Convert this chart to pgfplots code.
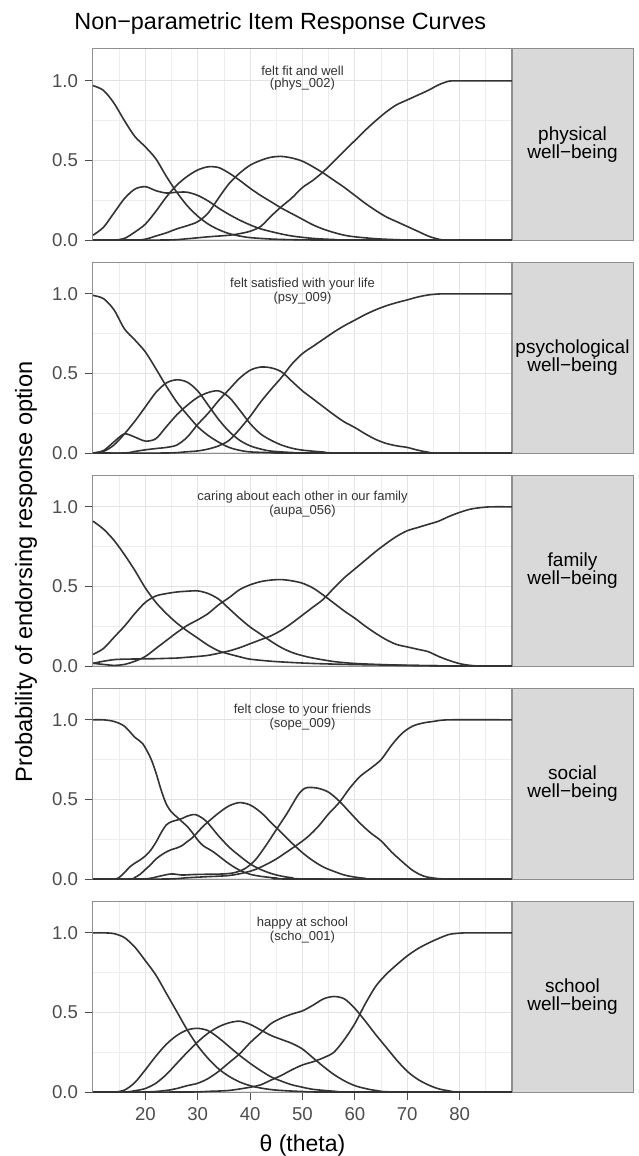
\documentclass[border=0pt]{standalone}
\usepackage{pgfplots}
\pgfplotsset{compat=1.18}
\usepackage{fontspec}
\setmainfont{Liberation Sans}

\definecolor{curvec}{HTML}{333333}
\definecolor{gridmaj}{HTML}{E3E3E3}
\definecolor{gridmin}{HTML}{EDEDED}
\definecolor{borderc}{HTML}{8F8F8F}
\definecolor{tickc}{HTML}{4D4D4D}
\definecolor{stripc}{HTML}{D9D9D9}

\tikzset{irc/.style={draw=curvec, line width=0.8pt, smooth, tension=0.5, mark=none}}

\pgfplotsset{
  panel/.style={
    scale only axis, width=209.5pt, height=95.5pt, anchor=north west,
    xmin=10, xmax=90, ymin=0, ymax=1.2,
    xtick={20,30,...,80}, minor xtick={15,25,...,85},
    ytick={0,0.5,1}, minor ytick={0.25,0.75},
    grid=both,
    major grid style={draw=gridmaj, line width=0.6pt},
    minor grid style={draw=gridmin, line width=0.4pt},
    axis line style={draw=borderc, line width=0.5pt},
    tick align=outside, tick pos=left,
    major tick length=4pt, minor tick length=0pt,
    tick style={draw=tickc, line width=0.5pt},
    /pgf/number format/assume math mode=true,
    yticklabel style={/pgf/number format/fixed, /pgf/number format/fixed zerofill,
      /pgf/number format/precision=1, font=\fontsize{9.3}{11}\selectfont, text=tickc},
    xticklabel style={font=\fontsize{9.3}{11}\selectfont, text=tickc},
  },
  toppanel/.style={panel, xmajorticks=false, xticklabels={}},
}

\newcommand{\itemlabel}[2]{\node[align=center, text=curvec,
  font=\fontsize{6.5}{6}\selectfont] at (axis cs:50,1.018) {#1\\(#2)};}
\newcommand{\strip}[2]{%
  \draw[draw=borderc, fill=stripc, line width=0.5pt] (256pt,#1) rectangle (316.5pt,#1-95.5pt);
  \node[align=center, font=\fontsize{9.5}{9.2}\selectfont] at (286.25pt,#1-47.75pt) {#2\\well−being};}

\begin{document}
\begin{tikzpicture}
\useasboundingbox (0,0) rectangle (319pt,-578pt);

\node[anchor=base west, inner sep=0pt, font=\fontsize{11.7}{13}\selectfont] at (37pt,-15pt) {Non−parametric Item Response Curves};
\node[rotate=90, font=\fontsize{11.8}{13}\selectfont] at (13pt,-286pt) {Probability of endorsing response option};
\node[font=\fontsize{11.5}{13}\selectfont] at (151.25pt,-573pt) {θ (theta)};

% physical well-being
\begin{axis}[toppanel, at={(46.5pt,-24.5pt)}]
\addplot[irc] coordinates {(10,0.97) (12,0.94) (14,0.86) (16,0.75) (18,0.65) (20,0.585) (22,0.51) (24,0.40) (26,0.30) (28,0.215) (30,0.15) (32,0.10) (34,0.065) (36,0.04) (38,0.025) (40,0.015) (44,0.006) (48,0.002) (55,0) (90,0)};
\addplot[irc] coordinates {(10,0.03) (12,0.08) (14,0.17) (16,0.26) (18,0.32) (20,0.335) (22,0.31) (24,0.295) (26,0.30) (28,0.30) (30,0.28) (32,0.245) (34,0.20) (36,0.16) (38,0.125) (40,0.095) (42,0.07) (45,0.045) (48,0.025) (52,0.01) (56,0.003) (60,0) (90,0)};
\addplot[irc] coordinates {(10,0) (14,0) (16,0.01) (18,0.05) (20,0.10) (22,0.18) (24,0.27) (26,0.345) (28,0.40) (30,0.44) (32,0.46) (34,0.455) (36,0.42) (38,0.375) (40,0.325) (42,0.28) (44,0.24) (46,0.20) (48,0.165) (50,0.13) (52,0.095) (54,0.068) (56,0.047) (58,0.03) (60,0.02) (64,0.008) (68,0.002) (72,0) (90,0)};
\addplot[irc] coordinates {(10,0) (18,0) (20,0.005) (22,0.025) (24,0.045) (26,0.07) (28,0.09) (30,0.115) (32,0.17) (34,0.265) (36,0.355) (38,0.42) (40,0.47) (42,0.50) (44,0.52) (46,0.525) (48,0.515) (50,0.495) (52,0.46) (54,0.42) (56,0.375) (58,0.33) (60,0.28) (62,0.23) (64,0.185) (66,0.145) (68,0.115) (70,0.085) (72,0.055) (74,0.025) (76,0.005) (78,0) (90,0)};
\addplot[irc] coordinates {(10,0) (24,0) (28,0.008) (32,0.02) (36,0.03) (38,0.04) (40,0.055) (42,0.085) (44,0.15) (46,0.21) (48,0.265) (50,0.33) (52,0.375) (54,0.43) (56,0.495) (58,0.56) (60,0.625) (62,0.69) (64,0.75) (66,0.805) (68,0.85) (70,0.88) (72,0.91) (74,0.94) (76,0.975) (78,0.998) (80,1) (90,1)};
\itemlabel{felt fit and well}{phys\_002}
\end{axis}
\strip{-24.5pt}{physical}

% psychological well-being
\begin{axis}[toppanel, at={(46.5pt,-131pt)}]
\addplot[irc] coordinates {(10,0.99) (12,0.97) (14,0.90) (16,0.78) (18,0.71) (20,0.635) (22,0.53) (24,0.42) (26,0.32) (28,0.24) (30,0.165) (32,0.11) (34,0.068) (36,0.035) (38,0.017) (40,0.007) (44,0.002) (48,0) (90,0)};
\addplot[irc] coordinates {(10,0) (12,0.01) (14,0.05) (16,0.12) (18,0.20) (20,0.29) (22,0.38) (24,0.44) (26,0.46) (28,0.445) (30,0.39) (32,0.30) (34,0.21) (36,0.135) (38,0.08) (40,0.045) (42,0.025) (44,0.012) (48,0.003) (52,0) (90,0)};
\addplot[irc] coordinates {(10,0) (12,0.015) (14,0.07) (16,0.12) (18,0.10) (20,0.075) (22,0.09) (24,0.165) (26,0.24) (28,0.30) (30,0.35) (32,0.38) (34,0.39) (36,0.35) (38,0.27) (40,0.185) (42,0.12) (44,0.08) (46,0.05) (48,0.03) (50,0.018) (54,0.006) (58,0) (90,0)};
\addplot[irc] coordinates {(10,0) (16,0) (18,0.01) (20,0.02) (22,0.028) (24,0.035) (26,0.05) (28,0.10) (30,0.18) (32,0.25) (34,0.33) (36,0.40) (38,0.47) (40,0.52) (42,0.54) (44,0.535) (46,0.51) (48,0.45) (50,0.39) (52,0.34) (54,0.29) (56,0.24) (58,0.195) (60,0.16) (62,0.12) (64,0.085) (66,0.06) (68,0.045) (70,0.035) (72,0.018) (74,0.005) (76,0) (90,0)};
\addplot[irc] coordinates {(10,0) (24,0) (28,0.008) (30,0.013) (32,0.025) (34,0.045) (36,0.08) (38,0.15) (40,0.23) (42,0.32) (44,0.40) (46,0.475) (48,0.56) (50,0.625) (52,0.67) (54,0.715) (56,0.76) (58,0.80) (60,0.835) (62,0.87) (64,0.90) (66,0.925) (68,0.945) (70,0.962) (72,0.98) (74,0.993) (76,0.999) (78,1) (90,1)};
\itemlabel{felt satisfied with your life}{psy\_009}
\end{axis}
\strip{-131pt}{psychological}

% family well-being
\begin{axis}[toppanel, at={(46.5pt,-237.5pt)}]
\addplot[irc] coordinates {(10,0.91) (12,0.86) (14,0.79) (16,0.70) (18,0.60) (20,0.49) (22,0.40) (24,0.33) (26,0.27) (28,0.22) (30,0.175) (32,0.13) (34,0.095) (36,0.075) (38,0.058) (40,0.043) (44,0.03) (48,0.022) (52,0.016) (56,0.012) (60,0.009) (66,0.006) (72,0.003) (80,0) (90,0)};
\addplot[irc] coordinates {(10,0.073) (12,0.11) (14,0.18) (16,0.25) (18,0.33) (20,0.40) (22,0.44) (24,0.455) (26,0.465) (28,0.47) (30,0.472) (32,0.455) (34,0.42) (36,0.36) (38,0.30) (40,0.245) (42,0.20) (44,0.155) (46,0.115) (48,0.085) (50,0.065) (52,0.05) (56,0.028) (60,0.016) (66,0.008) (72,0.003) (80,0) (90,0)};
\addplot[irc] coordinates {(10,0.017) (12,0.01) (14,0.004) (16,0.01) (18,0.03) (20,0.06) (22,0.11) (24,0.16) (26,0.21) (28,0.255) (30,0.29) (32,0.33) (34,0.385) (36,0.43) (38,0.48) (40,0.51) (42,0.53) (44,0.54) (46,0.543) (48,0.535) (50,0.52) (52,0.49) (54,0.445) (56,0.395) (58,0.345) (60,0.30) (62,0.25) (64,0.205) (66,0.165) (68,0.135) (70,0.12) (72,0.105) (74,0.09) (76,0.06) (78,0.035) (80,0.015) (82,0.004) (84,0) (90,0)};
\addplot[irc] coordinates {(10,0.017) (12,0.03) (14,0.04) (16,0.043) (18,0.044) (20,0.045) (22,0.046) (24,0.048) (26,0.05) (28,0.055) (30,0.06) (32,0.067) (34,0.08) (36,0.095) (38,0.115) (40,0.14) (42,0.165) (44,0.19) (46,0.225) (48,0.27) (50,0.32) (52,0.37) (54,0.42) (56,0.49) (58,0.555) (60,0.61) (62,0.665) (64,0.72) (66,0.77) (68,0.815) (70,0.85) (72,0.87) (74,0.89) (76,0.91) (78,0.94) (80,0.965) (82,0.985) (84,0.995) (86,1) (90,1)};
\itemlabel{caring about each other in our family}{aupa\_056}
\end{axis}
\strip{-237.5pt}{family}

% social well-being
\begin{axis}[toppanel, at={(46.5pt,-344pt)}]
\addplot[irc] coordinates {(10,1) (12,1) (14,0.99) (16,0.96) (18,0.89) (19.5,0.85) (21,0.76) (22,0.67) (23,0.56) (24,0.47) (25,0.42) (26,0.39) (27,0.36) (28,0.33) (29,0.29) (30,0.245) (31,0.21) (32,0.19) (33,0.17) (34,0.145) (36,0.095) (38,0.055) (40,0.03) (42,0.017) (45,0.006) (48,0) (90,0)};
\addplot[irc] coordinates {(10,0) (14,0) (15,0.01) (16,0.04) (17,0.075) (18,0.10) (19,0.12) (20,0.145) (21,0.18) (22,0.23) (23,0.29) (24,0.34) (25,0.36) (26,0.37) (27,0.38) (28,0.395) (29.5,0.405) (31,0.38) (32,0.35) (33,0.31) (34,0.27) (36,0.20) (38,0.145) (40,0.095) (42,0.06) (44,0.035) (46,0.018) (48,0.008) (52,0) (90,0)};
\addplot[irc] coordinates {(10,0) (17,0) (18,0.01) (19,0.03) (20,0.06) (21,0.09) (22,0.125) (23,0.15) (24,0.17) (25,0.185) (26,0.195) (27,0.21) (28,0.235) (29,0.26) (30,0.295) (31,0.33) (32,0.36) (34,0.415) (36,0.46) (38,0.48) (40,0.465) (42,0.42) (44,0.355) (46,0.29) (48,0.225) (50,0.165) (52,0.115) (54,0.075) (56,0.048) (58,0.025) (60,0.012) (62,0.004) (64,0) (90,0)};
\addplot[irc] coordinates {(10,0) (19,0) (21,0.005) (23,0.02) (25,0.032) (27,0.025) (29,0.028) (32,0.03) (35,0.032) (37,0.04) (39,0.065) (41,0.12) (43,0.21) (45,0.31) (47,0.41) (49,0.52) (50,0.56) (51,0.575) (53,0.57) (55,0.545) (57,0.49) (59,0.42) (61,0.35) (63,0.29) (65,0.24) (67,0.17) (69,0.11) (71,0.055) (73,0.02) (75,0.006) (78,0) (90,0)};
\addplot[irc] coordinates {(10,0) (24,0) (28,0.008) (32,0.015) (36,0.022) (39,0.04) (41,0.06) (43,0.09) (45,0.126) (47,0.17) (49,0.215) (51,0.265) (53,0.33) (55,0.41) (57,0.48) (59,0.57) (61,0.645) (63,0.695) (65,0.75) (67,0.84) (69,0.915) (71,0.96) (73,0.98) (75,0.99) (78,1) (90,1)};
\itemlabel{felt close to your friends}{sope\_009}
\end{axis}
\strip{-344pt}{social}

% school well-being
\begin{axis}[panel, at={(46.5pt,-450.5pt)}]
\addplot[irc] coordinates {(10,1) (12,1) (14,0.995) (16,0.97) (18,0.91) (20,0.825) (22,0.735) (24,0.62) (26,0.505) (28,0.39) (30,0.29) (32,0.21) (34,0.145) (36,0.098) (38,0.063) (40,0.04) (42,0.025) (45,0.012) (50,0.003) (55,0) (90,0)};
\addplot[irc] coordinates {(10,0) (14,0) (16,0.012) (18,0.06) (20,0.14) (22,0.225) (24,0.30) (26,0.355) (28,0.39) (30,0.40) (32,0.385) (34,0.34) (36,0.285) (38,0.23) (40,0.18) (42,0.135) (44,0.095) (46,0.068) (48,0.045) (50,0.03) (52,0.017) (56,0.005) (60,0) (90,0)};
\addplot[irc] coordinates {(10,0) (16,0) (18,0.008) (20,0.022) (22,0.055) (24,0.11) (26,0.18) (28,0.25) (30,0.315) (32,0.37) (34,0.41) (36,0.435) (38,0.445) (40,0.425) (42,0.39) (44,0.355) (46,0.33) (48,0.305) (50,0.27) (52,0.215) (54,0.16) (56,0.11) (58,0.07) (60,0.04) (62,0.022) (64,0.01) (68,0) (90,0)};
\addplot[irc] coordinates {(10,0) (20,0) (24,0.01) (26,0.022) (28,0.04) (30,0.055) (32,0.085) (34,0.13) (36,0.185) (38,0.24) (40,0.31) (42,0.37) (44,0.43) (46,0.465) (48,0.49) (50,0.51) (52,0.545) (54,0.585) (56,0.60) (58,0.585) (60,0.525) (62,0.445) (64,0.36) (66,0.28) (68,0.20) (70,0.13) (72,0.08) (74,0.045) (76,0.02) (78,0.007) (80,0) (90,0)};
\addplot[irc] coordinates {(10,0) (28,0) (32,0.004) (36,0.01) (40,0.03) (42,0.045) (44,0.075) (46,0.105) (48,0.14) (50,0.17) (52,0.19) (54,0.215) (56,0.25) (58,0.33) (60,0.43) (62,0.555) (64,0.665) (66,0.74) (68,0.80) (70,0.855) (72,0.90) (74,0.935) (76,0.965) (78,0.99) (80,0.998) (82,1) (90,1)};
\itemlabel{happy at school}{scho\_001}
\end{axis}
\strip{-450.5pt}{school}

\end{tikzpicture}
\end{document}
